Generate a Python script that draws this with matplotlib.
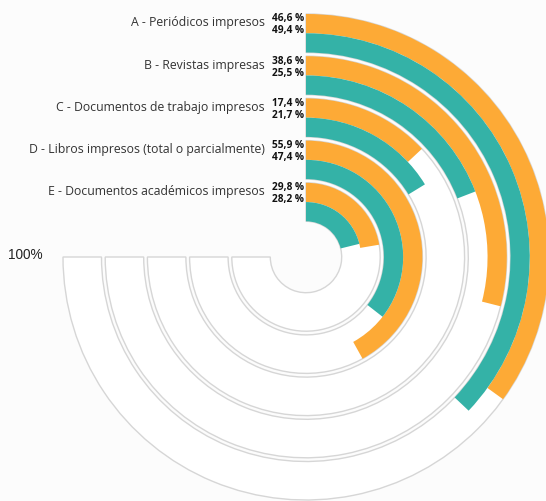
import numpy as np
import matplotlib
matplotlib.use('Agg')
import matplotlib.pyplot as plt

# datos
categorias = ['A - Periódicos impresos',
              'B - Revistas impresas',
              'C - Documentos de trabajo impresos',
              'D - Libros impresos (total o parcialmente)',
              'E - Documentos académicos impresos']
serie_naranja = [46.6, 38.6, 17.4, 55.9, 29.8]
serie_verde = [49.4, 25.5, 21.7, 47.4, 28.2]

naranja = '#fdaa36'
verde = '#34b2a7'
gris = '#d6d6d6'

# geometria (en pixeles, 1 unidad radial = 1 px)
R_MAX = 246
r_ext = 243
paso = 42.2
ancho = 38.5
ang_max = 270.0

W, H = 546, 502
cx, cy = 306, 258  # centro desde arriba

fig = plt.figure(figsize=(W / 100, H / 100), dpi=100)
fig.patch.set_facecolor('#fcfcfc')
ax = fig.add_axes([(cx - R_MAX) / W, (H - cy - R_MAX) / H, 2 * R_MAX / W, 2 * R_MAX / H],
                  projection='polar')
ax.set_theta_zero_location('N')
ax.set_theta_direction(-1)
ax.set_ylim(0, R_MAX)
ax.set_axis_off()

for i, cat in enumerate(categorias):
    top = r_ext - i * paso
    base = top - ancho
    # pista de fondo
    ax.bar(0, ancho, width=np.deg2rad(ang_max), bottom=base,
           align='edge', color='white', edgecolor=gris, linewidth=1.0, zorder=1)
    # barras
    ax.bar(0, ancho / 2, width=np.deg2rad(serie_naranja[i] / 100 * ang_max),
           bottom=top - ancho / 2, align='edge', color=naranja, linewidth=0, zorder=2)
    ax.bar(0, ancho / 2, width=np.deg2rad(serie_verde[i] / 100 * ang_max),
           bottom=base, align='edge', color=verde, linewidth=0, zorder=2)

    # etiquetas
    ax.annotate(cat, (0, top - 8), xytext=(-29.5, 0), textcoords='offset points',
                ha='right', va='center', fontsize=8.8, family='Open Sans', color='#333333')
    ax.annotate(f"{serie_naranja[i]:.1f} %".replace('.', ','), (0, top - 4),
                xytext=(-24.5, 0), textcoords='offset points', ha='left', va='center',
                fontsize=7.3, family='Open Sans', fontweight='bold', color='#111111')
    ax.annotate(f"{serie_verde[i]:.1f} %".replace('.', ','), (0, top - 16),
                xytext=(-24.5, 0), textcoords='offset points', ha='left', va='center',
                fontsize=7.3, family='Open Sans', fontweight='bold', color='#111111')

ax.annotate('100%', (np.deg2rad(ang_max), r_ext), xytext=(-15, 2), textcoords='offset points',
            ha='right', va='center', fontsize=9.8, family='Liberation Sans', color='#222222')

plt.savefig('out.png', dpi=100, facecolor=fig.get_facecolor())
